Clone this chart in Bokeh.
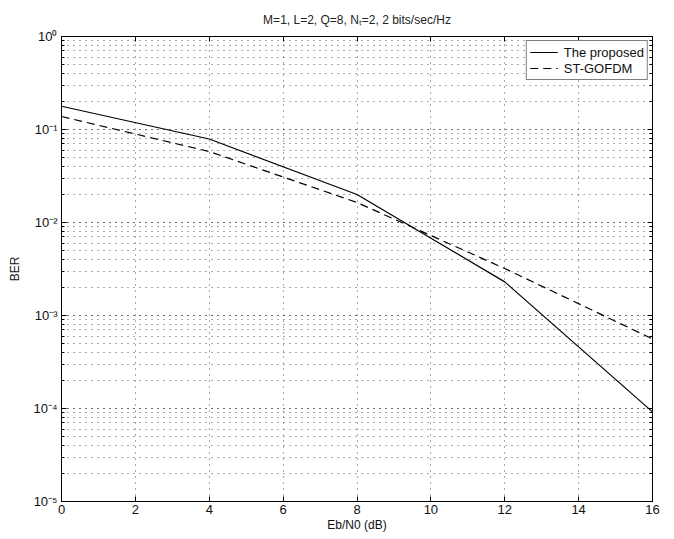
from bokeh.plotting import figure
from bokeh.models import (LogAxis, LinearAxis, CustomJSTickFormatter, Legend, LegendItem,
                          FixedTicker, LogTicker)
from bokeh.embed import file_html
from bokeh.resources import INLINE

# Data
snr_db = [0, 4, 8, 12, 16]
ber_proposed = [0.178, 0.079, 0.0200, 0.0023, 0.000092]
ber_stgofdm = [0.138, 0.058, 0.0164, 0.0032, 0.00056]
x_ticks = [0, 2, 4, 6, 8, 10, 12, 14, 16]
title_text = "M=1, L=2, Q=8, N\u209c=2, 2 bits/sec/Hz"

FONT = "Liberation Sans"

p = figure(width=666, height=535, y_axis_type="log", x_range=(0, 16), y_range=(1e-5, 1),
           output_backend="svg", toolbar_location=None,
           min_border_left=61, min_border_right=14, min_border_top=36, min_border_bottom=34)

p.title.text = title_text
p.title.align = "center"
p.title.text_font = FONT
p.title.text_font_size = "12px"
p.title.text_font_style = "normal"
p.title.text_color = "#222222"
p.title.standoff = 20

sup_js = """
const m = {'-':'\u207b','0':'\u2070','1':'\u00b9','2':'\u00b2','3':'\u00b3','4':'\u2074','5':'\u2075','6':'\u2076','7':'\u2077','8':'\u2078','9':'\u2079'};
const e = Math.round(Math.log10(tick));
return '10' + String(e).split('').map(c => m[c]).join('');
"""

# axes styling
xa = p.xaxis[0]
xa.ticker = FixedTicker(ticks=x_ticks)
xa.axis_label = "Eb/N0 (dB)"
ya = p.yaxis[0]
ya.ticker = LogTicker(num_minor_ticks=10)
ya.formatter = CustomJSTickFormatter(code=sup_js)
ya.axis_label = "BER"
for ax in (xa, ya):
    ax.major_label_text_font = FONT
    ax.major_label_text_font_size = "13px"
    ax.major_label_text_color = "#111111"
    ax.axis_label_text_font = FONT
    ax.axis_label_text_font_size = "12px"
    ax.axis_label_text_font_style = "normal"
    ax.axis_label_text_color = "#111111"
    ax.axis_line_color = "black"
    ax.major_tick_in = 5
    ax.major_tick_out = 0
    ax.minor_tick_in = 3
    ax.minor_tick_out = 0
    ax.major_tick_line_color = "black"
    ax.minor_tick_line_color = "black"
    ax.major_label_standoff = 4
    ax.axis_label_standoff = 2
xa.minor_tick_line_color = None
xa.major_label_standoff = 3
xa.axis_label_standoff = 1
ya.axis_label_standoff = 8

# mirrored axes (ticks only, labels invisible)
top = LinearAxis(ticker=FixedTicker(ticks=x_ticks), major_label_text_font_size="4px",
                 major_label_text_color=None,
                 major_tick_in=5, major_tick_out=0, minor_tick_line_color=None,
                 major_label_standoff=0, axis_line_color="black")
p.add_layout(top, "above")
right = LogAxis(ticker=LogTicker(num_minor_ticks=10), major_label_text_font_size="4px",
                major_label_text_color=None,
                major_tick_in=5, major_tick_out=0, minor_tick_in=3, minor_tick_out=0,
                major_label_standoff=0, axis_line_color="black")
p.add_layout(right, "right")

# grids: dotted, MATLAB style
GRID = "#555555"
p.xgrid.grid_line_color = GRID
p.xgrid.grid_line_dash = "1 5"
p.xgrid.grid_line_width = 1
p.ygrid.grid_line_color = GRID
p.ygrid.grid_line_dash = "1 5"
p.ygrid.minor_grid_line_color = GRID
p.ygrid.minor_grid_line_dash = "1 5"

p.outline_line_color = "black"
p.outline_line_width = 1
p.background_fill_color = "white"
p.border_fill_color = "white"

r1 = p.line(snr_db, ber_proposed, line_color="black", line_width=1.2)
r2 = p.line(snr_db, ber_stgofdm, line_color="black", line_width=1.2, line_dash="8 5")

legend = Legend(items=[LegendItem(label="The proposed", renderers=[r1]),
                       LegendItem(label="ST-GOFDM", renderers=[r2])],
                location="top_right")
legend.label_text_font = FONT
legend.label_text_font_size = "13px"
legend.label_text_color = "#111111"
legend.border_line_color = "black"
legend.border_line_width = 1
legend.background_fill_color = "white"
legend.background_fill_alpha = 1
legend.margin = 4
legend.padding = 3
legend.spacing = 0
legend.glyph_width = 28
legend.glyph_height = 16
legend.label_height = 16
legend.label_standoff = 6
p.add_layout(legend)

open("out.html", "w").write(file_html(p, INLINE))
